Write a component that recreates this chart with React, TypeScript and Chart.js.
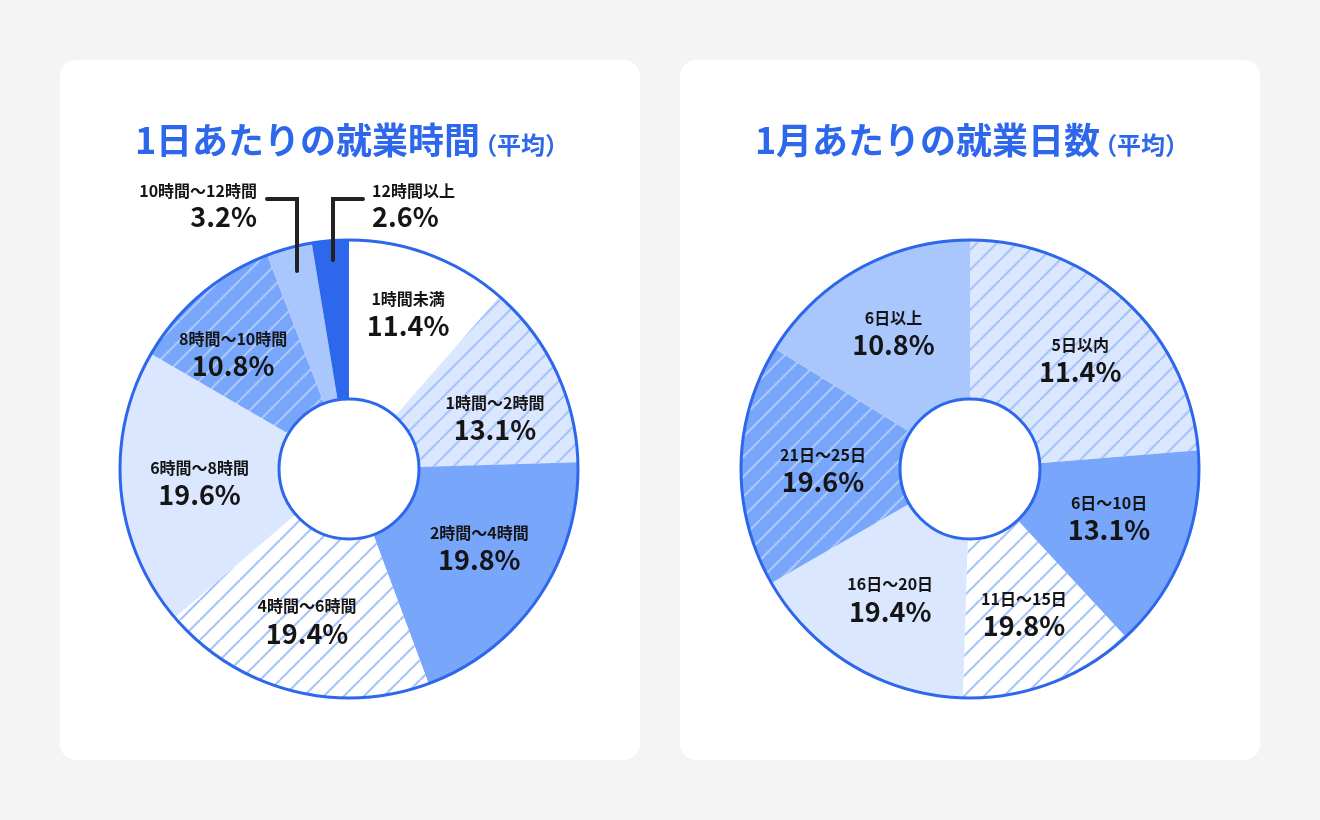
import React, { useEffect, useRef } from "react";
import { Chart, registerables } from "chart.js";

Chart.register(...registerables);

// ---- data: hours per day ----
const hourCategories = [
  "1時間未満",
  "1時間〜2時間",
  "2時間〜4時間",
  "4時間〜6時間",
  "6時間〜8時間",
  "8時間〜10時間",
  "10時間〜12時間",
  "12時間以上",
];
const hourValues = [11.4, 13.1, 19.8, 19.4, 19.6, 10.8, 3.2, 2.6];
const hourValueLabels = ["11.4%", "13.1%", "19.8%", "19.4%", "19.6%", "10.8%", "3.2%", "2.6%"];

// ---- data: days per month (slice sizes as drawn; printed labels as shown) ----
const dayCategories = ["5日以内", "6日〜10日", "11日〜15日", "16日〜20日", "21日〜25日", "6日以上"];
const dayArcShares = [23.7, 14.4, 12.4, 16.2, 17.1, 16.2];
const dayValueLabels = ["11.4%", "13.1%", "19.8%", "19.4%", "19.6%", "10.8%"];

// ---- styles ----
const BLUE = "#2d67ec";
const TEXT = "#151515";
const FONT = '"Noto Sans CJK JP", "Noto Sans", sans-serif';

type FillKey = "white" | "pale" | "medium" | "light" | "dark" | "paleHatch" | "whiteHatch" | "mediumHatch";

const hourFills: FillKey[] = ["white", "paleHatch", "medium", "whiteHatch", "pale", "mediumHatch", "light", "dark"];
const dayFills: FillKey[] = ["paleHatch", "medium", "whiteHatch", "pale", "mediumHatch", "light"];

const hourLabelRadius = [167, 155, 152, 157, 150, 164, 0, 0];
const hourLabelShift = [0.2, 5.7, -3, 0.9, 0.1, -4.6, 0, 0];
const dayLabelRadius = [156, 147, 154, 152, 147, 157];
const dayLabelShift = [2.3, -2.3, 0, 0.7, -0.8, 0];

type Callout = { index: number; dx: number; bottom: number; top: number; arm: number; textDx: number; align: CanvasTextAlign };
const hourCallouts: Callout[] = [
  { index: 6, dx: -52, bottom: -198, top: -270, arm: -30, textDx: -92, align: "right" },
  { index: 7, dx: -16, bottom: -209, top: -270, arm: 30, textDx: 23, align: "left" },
];

function hatch(bg: string, line: string, lw = 2.2, size = 20): CanvasPattern | string {
  const c = document.createElement("canvas");
  c.width = size;
  c.height = size;
  const g = c.getContext("2d");
  if (!g) return bg;
  g.fillStyle = bg;
  g.fillRect(0, 0, size, size);
  g.strokeStyle = line;
  g.lineWidth = lw;
  g.beginPath();
  for (let k = -1; k <= 1; k++) {
    g.moveTo(k * size, size);
    g.lineTo(k * size + size, 0);
  }
  g.stroke();
  const p = g.createPattern(c, "repeat");
  return p || bg;
}

function makeFill(k: FillKey): CanvasPattern | string {
  switch (k) {
    case "white":
      return "#ffffff";
    case "pale":
      return "#dbe7fe";
    case "medium":
      return "#78a6fb";
    case "light":
      return "#a9c6fd";
    case "dark":
      return BLUE;
    case "paleHatch":
      return hatch("#dbe7fe", "#a7c4fb");
    case "whiteHatch":
      return hatch("#ffffff", "#a7c4fb");
    case "mediumHatch":
      return hatch("#78a6fb", "#abc8ff");
  }
}

const OUTER = 230;
const INNER = 70;

type DonutProps = {
  categories: string[];
  values: number[];
  valueLabels: string[];
  fills: FillKey[];
  labelRadius: number[];
  labelShift: number[];
  callouts: Callout[];
  centerX: number;
};

function Donut(props: DonutProps) {
  const ref = useRef<HTMLCanvasElement | null>(null);
  useEffect(() => {
    const canvas = ref.current;
    if (!canvas) return;
    const W = 580;
    const H = 700;
    const cy = 409;
    const half = 240;
    const padL = props.centerX - 245;
    const padR = W - 490 - padL;

    const labelPlugin = {
      id: "donutLabels",
      afterDatasetsDraw(chart: any) {
        const ctx: CanvasRenderingContext2D = chart.ctx;
        const meta = chart.getDatasetMeta(0);
        const arcs = meta.data as any[];
        if (!arcs.length) return;
        const x0 = arcs[0].x;
        const y0 = arcs[0].y;
        ctx.save();
        // rings
        ctx.strokeStyle = BLUE;
        ctx.lineWidth = 3;
        ctx.beginPath();
        ctx.arc(x0, y0, OUTER - 1, 0, Math.PI * 2);
        ctx.stroke();
        ctx.fillStyle = "#ffffff";
        ctx.beginPath();
        ctx.arc(x0, y0, INNER, 0, Math.PI * 2);
        ctx.fill();
        ctx.stroke();

        const calloutIdx = new Set(props.callouts.map((c) => c.index));
        ctx.fillStyle = TEXT;
        ctx.textBaseline = "middle";
        arcs.forEach((arc, i) => {
          if (calloutIdx.has(i)) return;
          const mid = (arc.startAngle + arc.endAngle) / 2 + (props.labelShift[i] * Math.PI) / 180;
          const r = props.labelRadius[i];
          const x = x0 + r * Math.cos(mid);
          const y = y0 + r * Math.sin(mid);
          ctx.textAlign = "center";
          ctx.font = `700 16px ${FONT}`;
          ctx.fillText(props.categories[i], x, y - 14);
          ctx.font = `700 27px ${FONT}`;
          ctx.fillText(props.valueLabels[i], x, y + 13);
        });

        props.callouts.forEach((c) => {
          const lx = x0 + c.dx;
          ctx.strokeStyle = "#222222";
          ctx.lineWidth = 4;
          ctx.lineCap = "round";
          ctx.lineJoin = "miter";
          ctx.beginPath();
          ctx.moveTo(lx, y0 + c.bottom);
          ctx.lineTo(lx, y0 + c.top);
          ctx.lineTo(lx + c.arm, y0 + c.top);
          ctx.stroke();
          ctx.fillStyle = TEXT;
          ctx.textAlign = c.align;
          ctx.font = `700 16px ${FONT}`;
          ctx.fillText(props.categories[c.index], x0 + c.textDx, y0 + c.top - 8);
          ctx.font = `700 27px ${FONT}`;
          ctx.fillText(props.valueLabels[c.index], x0 + c.textDx, y0 + c.top + 18);
        });
        ctx.restore();
      },
    };

    const chart = new Chart(canvas, {
      type: "doughnut",
      data: {
        labels: props.categories,
        datasets: [
          {
            data: props.values,
            backgroundColor: props.fills.map(makeFill) as any,
            borderWidth: 0,
            hoverOffset: 0,
            radius: OUTER,
            cutout: `${(INNER / OUTER) * 100}%`,
          } as any,
        ],
      },
      options: {
        responsive: false,
        maintainAspectRatio: false,
        animation: false,
        devicePixelRatio: 1,
        events: [],
        layout: { padding: { left: padL, right: padR, top: cy - half, bottom: H - cy - half } },
        plugins: { legend: { display: false }, tooltip: { enabled: false } },
      } as any,
      plugins: [labelPlugin],
    });
    return () => chart.destroy();
  }, []);
  return <canvas ref={ref} width={580} height={700} style={{ position: "absolute", left: 0, top: 0, width: 580, height: 700 }} />;
}

function Card(props: { left: number; title: string; children: React.ReactNode }) {
  return (
    <div
      style={{
        position: "absolute",
        left: props.left,
        top: 60,
        width: 580,
        height: 700,
        background: "#ffffff",
        borderRadius: 16,
        overflow: "hidden",
      }}
    >
      {props.children}
      <div
        style={{
          position: "absolute",
          left: 0,
          top: 60,
          width: 580,
          paddingLeft: 4,
          boxSizing: "border-box",
          textAlign: "center",
          fontFamily: FONT,
          fontWeight: 700,
          fontSize: 36,
          lineHeight: "36px",
          color: BLUE,
          whiteSpace: "nowrap",
        }}
      >
        {props.title}
        <span style={{ fontSize: 24, marginLeft: -7 }}>（平均）</span>
      </div>
    </div>
  );
}

export default function App() {
  return (
    <div style={{ position: "fixed", left: 0, top: 0, width: 1320, height: 820, background: "#f5f4f5" }}>
      <Card left={60} title="1日あたりの就業時間">
        <Donut
          categories={hourCategories}
          values={hourValues}
          valueLabels={hourValueLabels}
          fills={hourFills}
          labelRadius={hourLabelRadius}
          labelShift={hourLabelShift}
          callouts={hourCallouts}
          centerX={289}
        />
      </Card>
      <Card left={680} title="1月あたりの就業日数">
        <Donut
          categories={dayCategories}
          values={dayArcShares}
          valueLabels={dayValueLabels}
          fills={dayFills}
          labelRadius={dayLabelRadius}
          labelShift={dayLabelShift}
          callouts={[]}
          centerX={290}
        />
      </Card>
    </div>
  );
}
